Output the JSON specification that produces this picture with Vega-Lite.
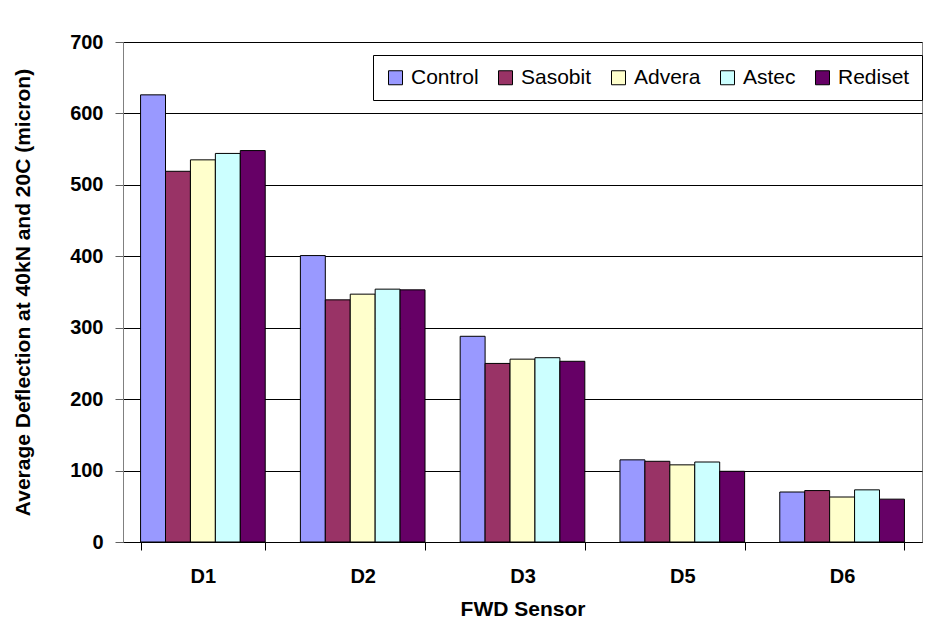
{
  "$schema": "https://vega.github.io/schema/vega-lite/v6.json",
  "width": 799,
  "height": 500,
  "autosize": {"type": "none"},
  "padding": {"left": 123, "top": 42, "right": 23, "bottom": 97},
  "background": "white",
  "config": {
    "font": "Liberation Sans",
    "view": {"stroke": "#808080", "strokeWidth": 1},
    "axis": {"labelFont": "Liberation Sans", "titleFont": "Liberation Sans"}
  },
  "data": {
    "values": [
      {"sensor": "D1", "mix": "Control", "deflection": 626},
      {"sensor": "D1", "mix": "Sasobit", "deflection": 519},
      {"sensor": "D1", "mix": "Advera", "deflection": 535},
      {"sensor": "D1", "mix": "Astec", "deflection": 544},
      {"sensor": "D1", "mix": "Rediset", "deflection": 548},
      {"sensor": "D2", "mix": "Control", "deflection": 401},
      {"sensor": "D2", "mix": "Sasobit", "deflection": 339},
      {"sensor": "D2", "mix": "Advera", "deflection": 347},
      {"sensor": "D2", "mix": "Astec", "deflection": 354},
      {"sensor": "D2", "mix": "Rediset", "deflection": 353},
      {"sensor": "D3", "mix": "Control", "deflection": 288},
      {"sensor": "D3", "mix": "Sasobit", "deflection": 250},
      {"sensor": "D3", "mix": "Advera", "deflection": 256},
      {"sensor": "D3", "mix": "Astec", "deflection": 258},
      {"sensor": "D3", "mix": "Rediset", "deflection": 253},
      {"sensor": "D5", "mix": "Control", "deflection": 115},
      {"sensor": "D5", "mix": "Sasobit", "deflection": 113},
      {"sensor": "D5", "mix": "Advera", "deflection": 108},
      {"sensor": "D5", "mix": "Astec", "deflection": 112},
      {"sensor": "D5", "mix": "Rediset", "deflection": 99},
      {"sensor": "D6", "mix": "Control", "deflection": 70},
      {"sensor": "D6", "mix": "Sasobit", "deflection": 72},
      {"sensor": "D6", "mix": "Advera", "deflection": 63},
      {"sensor": "D6", "mix": "Astec", "deflection": 73},
      {"sensor": "D6", "mix": "Rediset", "deflection": 60}
    ]
  },
  "mark": {"type": "bar", "stroke": "black", "strokeWidth": 1},
  "encoding": {
    "x": {
      "field": "sensor",
      "type": "nominal",
      "sort": ["D1", "D2", "D3", "D5", "D6"],
      "scale": {"paddingInner": 0.22, "paddingOuter": 0.11},
      "axis": {
        "title": "FWD Sensor",
        "labelAngle": 0,
        "labelFontSize": 20,
        "labelFontWeight": "bold",
        "labelColor": "black",
        "labelPadding": 16,
        "titleFontSize": 21,
        "titleFontWeight": "bold",
        "titleColor": "black",
        "titlePadding": 12,
        "tickBand": "extent",
        "tickSize": 8,
        "tickColor": "black",
        "domainColor": "black",
        "grid": false
      }
    },
    "xOffset": {
      "field": "mix",
      "type": "nominal",
      "sort": ["Control", "Sasobit", "Advera", "Astec", "Rediset"],
      "scale": {"paddingInner": 0, "paddingOuter": 0}
    },
    "y": {
      "field": "deflection",
      "type": "quantitative",
      "scale": {"domain": [0, 700], "nice": false},
      "axis": {
        "title": "Average Deflection at 40kN and 20C (micron)",
        "values": [0, 100, 200, 300, 400, 500, 600, 700],
        "labelFontSize": 20,
        "labelFontWeight": "bold",
        "labelColor": "black",
        "labelPadding": 12,
        "tickSize": 8,
        "tickColor": "#606060",
        "domainColor": "#808080",
        "titleFontSize": 21,
        "titleFontWeight": "bold",
        "titleColor": "black",
        "titlePadding": 36,
        "grid": true,
        "gridColor": "black",
        "gridOpacity": 1,
        "gridWidth": 1
      }
    },
    "color": {
      "field": "mix",
      "type": "nominal",
      "sort": ["Control", "Sasobit", "Advera", "Astec", "Rediset"],
      "scale": {
        "domain": ["Control", "Sasobit", "Advera", "Astec", "Rediset"],
        "range": ["#9999FF", "#993366", "#FFFFCC", "#CCFFFF", "#660066"]
      },
      "legend": {
        "title": null,
        "orient": "none",
        "legendX": 250,
        "legendY": 13,
        "direction": "horizontal",
        "symbolType": "square",
        "symbolSize": 196,
        "symbolStrokeColor": "black",
        "symbolStrokeWidth": 1,
        "symbolOpacity": 1,
        "labelFontSize": 21,
        "labelColor": "black",
        "labelOffset": 5,
        "columnPadding": 16,
        "padding": 12,
        "strokeColor": "black",
        "fillColor": "white"
      }
    }
  }
}
